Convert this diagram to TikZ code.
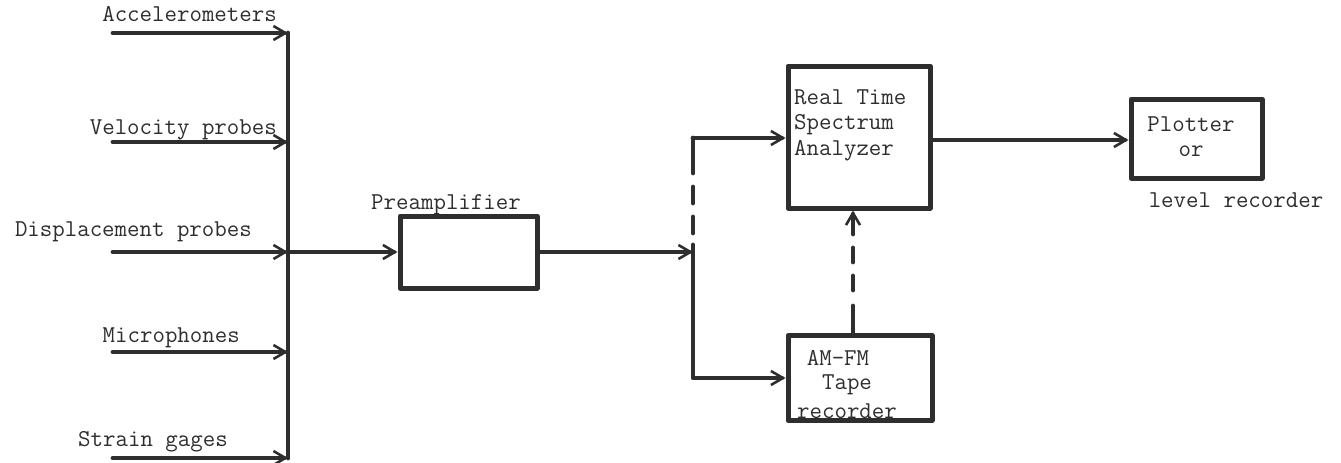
\documentclass[tikz,border=0pt]{standalone}
\usepackage{fontspec}
\usetikzlibrary{arrows.meta, positioning}
\definecolor{ink}{HTML}{2E2E2E}
\tikzset{el/.style={line cap=round, line join=round},
  wire/.style={ink, line width=4.8pt, el},
  flow/.style={wire, -{Straight Barb[length=12pt, width=14pt, line width=2.6pt]}},
  blk/.style={draw=ink, line width=5pt, inner sep=0pt, el},
  lbl/.style={text=ink, inner sep=0pt, font=\ttfamily\fontsize{24.2}{25.5}\selectfont}}

\begin{document}
\begin{tikzpicture}[x=1pt, y=-1pt, el]
  \useasboundingbox (0,0) rectangle (1341,463);
  % transducers onto the bus
  \foreach \y/\e/\ly/\t/\n in {33/277/14/Accelerometers/acc, 142/277/130/Velocity probes/vel,
      252/252/232/Displacement probes/dis, 352/240/338/Microphones/mic, 458/228/442/Strain gages/str}{
     \node[lbl, anchor=east] (\n) at (\e,\ly) {\t};
     \coordinate (\n-s) at (113,\y); \coordinate (\n-b) at (288,\y);
     \draw[flow] (\n-s) -- (\n-b);}
  \draw[wire] (acc-b) -- (str-b);
  % blocks
  \node[blk, minimum width=137pt, minimum height=72pt] (pre) at (468.5,252) {};
  \node[lbl] (prelbl) at (446,205) {Preamplifier};
  \node[blk, minimum width=142pt, minimum height=142pt] (rta) at (859,137) {};
  \node[lbl, anchor=west, align=left] (rtalbl) at (794,125) {Real Time\\Spectrum\\Analyzer};
  \node[blk, minimum width=131pt, minimum height=79pt] (plot) at (1196.5,138.5) {};
  \node[lbl, align=center] (plotlbl) at (1191,136.5) {Plotter\\or};
  \node[lbl] (lvl) at (1236,200) {level recorder};
  \node[blk, minimum width=144pt, minimum height=85pt] (tape) at (860,378) {};
  \node[lbl] (amfm) at (838,358) {AM-FM};
  \node[lbl] (tp) at (847,385) {Tape};
  \node[lbl] (rec) at (847,411) {recorder};
  % signal paths
  \coordinate (split) at (693,252);
  \coordinate (up) at (693,138);
  \draw[flow] (dis-b) -- (pre.west);
  \draw[flow] (pre.east) -- (split);
  \draw[wire, dash pattern=on 35pt off 14pt on 16pt off 14pt on 16pt off 12pt] (up) -- (split);
  \draw[flow] (up) -- (up -| rta.west);
  \draw[flow] (split) |- (tape.west);
  \draw[flow] ([yshift=-3pt]rta.east) -- ([yshift=-3pt]rta.east -| plot.west);
  \draw[flow, dash pattern=on 27pt off 16pt on 14pt off 14pt on 14pt off 14pt on 40pt]
     ([xshift=-6pt]rta.south |- tape.north) -- ([xshift=-6pt]rta.south);
\end{tikzpicture}
\end{document}
